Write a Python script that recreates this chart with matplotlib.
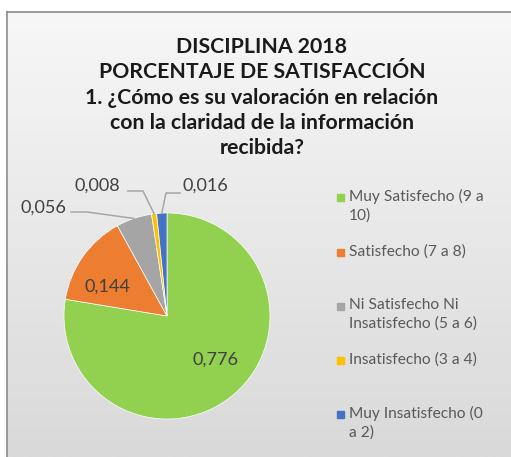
import numpy as np
import matplotlib
matplotlib.use("Agg")
import matplotlib.pyplot as plt
from matplotlib.patches import Rectangle

plt.rcParams['font.family'] = ['Lato', 'DejaVu Sans']

categorias = ["Muy Satisfecho (9 a\n10)", "Satisfecho (7 a 8)",
              "Ni Satisfecho Ni\nInsatisfecho (5 a 6)", "Insatisfecho (3 a 4)",
              "Muy Insatisfecho (0\na 2)"]
valores = [0.776, 0.144, 0.056, 0.008, 0.016]
colores = ["#92D050", "#ED7D31", "#A5A5A5", "#FFC000", "#4472C4"]
titulo = ("DISCIPLINA 2018\nPORCENTAJE DE SATISFACCIÓN\n"
          "1. ¿Cómo es su valoración en relación\ncon la claridad de la información\nrecibida?")

W, H = 511, 457
fig = plt.figure(figsize=(W / 100, H / 100), dpi=100)

# fondo con degradado dentro del marco
bg = fig.add_axes([7 / W, 0, 1 - 7 / W, (H - 12) / H])
grad = np.linspace(0, 1, 256).reshape(-1, 1)
cmap = matplotlib.colors.LinearSegmentedColormap.from_list("g", ["#F7F7F7", "#D9D9D9"])
bg.imshow(grad, aspect="auto", cmap=cmap, extent=[0, 1, 0, 1])
bg.set_xticks([])
bg.set_yticks([])
for s in ["right", "bottom"]:
    bg.spines[s].set_visible(False)
for s in ["left", "top"]:
    bg.spines[s].set_color("#8C8C8C")
    bg.spines[s].set_linewidth(1.2)

# ejes en pixeles (y hacia abajo se convierte con H - y)
ax = fig.add_axes([0, 0, 1, 1])

cx, cy, r = 167, H - 316, 103
wedges, _ = ax.pie(valores, colors=colores, startangle=90, counterclock=False,
                   center=(cx, cy), radius=r, frame=True,
                   wedgeprops=dict(edgecolor="white", linewidth=0.5))
ax.set_xlim(0, W)
ax.set_ylim(0, H)
ax.set_aspect("equal")
ax.axis("off")

txt_col = "#404040"
# etiquetas dentro
ax.text(215, H - 360, "0,776", ha="center", va="center", fontsize=13, color=txt_col)
ax.text(107, H - 287, "0,144", ha="center", va="center", fontsize=13, color=txt_col)

# etiquetas con linea guia: (indice, pos texto, codo, inicio horizontal)
guias = [(2, (43, 208), (87, 212), (71, 212)),
         (3, (97, 186), (143, 191), (128, 191)),
         (4, (205, 186), (166, 193), (180, 193))]
for i, (tx, ty), (ex, ey), (sx, sy) in guias:
    w = wedges[i]
    ang = np.deg2rad((w.theta1 + w.theta2) / 2)
    px, py = cx + r * np.cos(ang), cy + r * np.sin(ang)
    ax.plot([sx, ex, px], [H - sy, H - ey, py], color="#A6A6A6", lw=1.1)
    ax.text(tx, H - ty, f"{valores[i]:.3f}".replace(".", ","), ha="center", va="center",
            fontsize=13, color=txt_col)

# titulo
ax.text(262, H - 37, titulo, ha="center", va="top", fontsize=15.3, fontweight="bold",
        color="#1a1a1a", linespacing=1.33)

# leyenda
tops = [189, 244, 298, 352, 406]
for cat, col, t in zip(categorias, colores, tops):
    ax.add_patch(Rectangle((337, H - t - 12), 7, 7, color=col))
    ax.text(349, H - t, cat, ha="left", va="top", fontsize=11.2, color="#595959",
            linespacing=1.42)

fig.savefig("out.png", dpi=100)
